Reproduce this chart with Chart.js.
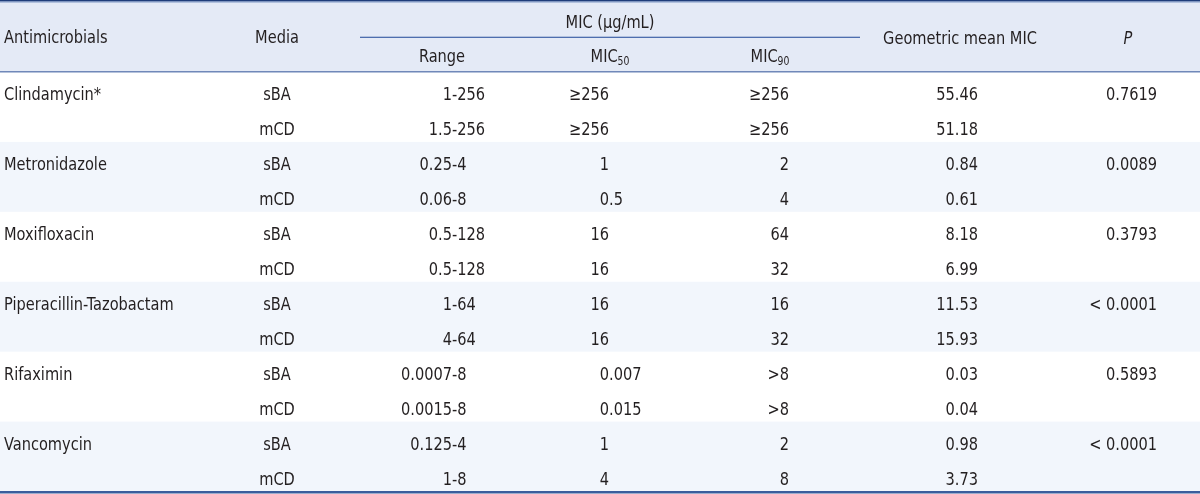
<!DOCTYPE html>
<html>
<head>
<meta charset="utf-8">
<script src="https://cdn.jsdelivr.net/npm/chart.js@4/dist/chart.umd.min.js"></script>
<style>
  html,body{margin:0;padding:0;background:#fff;}
  #wrap{width:1200px;height:494px;}
</style>
</head>
<body>
<div id="wrap"><canvas id="tbl" width="1200" height="494"></canvas></div>
<script>
// ====================== DATA ======================
const drugs = ['Clindamycin*','Metronidazole','Moxifloxacin','Piperacillin-Tazobactam','Rifaximin','Vancomycin'];
const media = ['sBA','mCD'];
const ranges = ['1-256','1.5-256','0.25-4','0.06-8','0.5-128','0.5-128','1-64','4-64','0.0007-8','0.0015-8','0.125-4','1-8'];
const mic50 = ['\u2265256','\u2265256','1','0.5','16','16','16','16','0.007','0.015','1','4'];
const mic90 = ['\u2265256','\u2265256','2','4','64','32','16','32','>8','>8','2','8'];
const geoMean = [55.46,51.18,0.84,0.61,8.18,6.99,11.53,15.93,0.03,0.04,0.98,3.73];
const pValues = ['0.7619','0.0089','0.3793','< 0.0001','0.5893','< 0.0001'];

// ====================== LAYOUT (table units) ======================
const HEAD = 2.06;          // header height in body-row units
const nRows = drugs.length * media.length;
const col = {drug:4, media:277, rangeSplit:452, rangeHead:442, micSpan:[360,860], micHead:610,
             mic50:609, mic50Head:610, mic90:789, mic90Head:770, geo:978, geoHead:960, p:1157, pHead:1128};
const FONT = "'DejaVu Sans Condensed','DejaVu Sans',sans-serif";
const SX = 0.9;             // squeeze text a bit, the original face is narrower
const TXT = '#231f20';

const tablePlugin = {
  id:'tablePlugin',
  beforeDatasetsDraw(chart){
    const {ctx} = chart, xs = chart.scales.x, ys = chart.scales.y;
    const px = v=>xs.getPixelForValue(v), py = v=>ys.getPixelForValue(v);
    const L = px(0), W = px(1200)-px(0);
    ctx.save();
    // header background
    ctx.fillStyle = '#e4eaf6';
    ctx.fillRect(L, py(-HEAD), W, py(0)-py(-HEAD));
    // tinted groups
    ctx.fillStyle = '#f2f6fc';
    drugs.forEach((d,g)=>{
      if(g%2===1) ctx.fillRect(L, py(g*2), W, py(g*2+2)-py(g*2));
    });
    // rules
    ctx.fillStyle = '#1f3d7a';
    ctx.fillRect(L, py(-HEAD), W, 1.5);
    ctx.fillStyle = '#7f97c6';
    ctx.fillRect(L, py(-HEAD)+1.5, W, 1);
    ctx.fillStyle = '#6f88b9';
    ctx.fillRect(L, py(0)-1, W, 1.5);
    ctx.fillStyle = '#3b5d9c';
    ctx.fillRect(L, py(nRows)-0.5, W, 2.5);
    ctx.fillStyle = '#3f62a6';
    ctx.fillRect(px(col.micSpan[0]), py(-1.01), px(col.micSpan[1])-px(col.micSpan[0]), 1.2);
    ctx.restore();
  },
  afterDatasetsDraw(chart){
    const {ctx} = chart, xs = chart.scales.x, ys = chart.scales.y;
    const px = v=>xs.getPixelForValue(v), py = v=>ys.getPixelForValue(v);
    ctx.save();
    ctx.fillStyle = TXT;
    ctx.textBaseline = 'alphabetic';
    const f = (s,style)=> (style||'') + ' ' + s + 'px ' + FONT;
    const put = (t,x,y,align,font)=>{
      ctx.save();
      ctx.translate(x,y); ctx.scale(SX,1);
      ctx.font = font||f(18); ctx.textAlign = align; ctx.fillText(t,0,0);
      ctx.restore();
    };
    const wid = (t,font)=>{ ctx.font = font; return ctx.measureText(t).width*SX; };
    const sub = (main,s,cx,y)=>{ // centred "MIC" + subscript
      const w1 = wid(main,f(18)), w2 = wid(s,f(11.5));
      const x0 = cx-(w1+w2)/2;
      put(main,x0,y,'left'); put(s,x0+w1,y+3,'left',f(11.5));
    };
    const split = (t,ch,x,y)=>{ // align on a character
      const i = t.indexOf(ch);
      if(i<0){ put(t,x,y,'right'); return; }
      put(t.slice(0,i),x,y,'right'); put(t.slice(i),x,y,'left');
    };
    // header
    put('Antimicrobials', px(col.drug), py(-0.82), 'left');
    put('Media', px(col.media), py(-0.82), 'center');
    put('MIC (\u00b5g/mL)', px(col.micHead), py(-1.25), 'center');
    put('Range', px(col.rangeHead), py(-0.30), 'center');
    sub('MIC','50', px(col.mic50Head), py(-0.30));
    sub('MIC','90', px(col.mic90Head), py(-0.30));
    put('Geometric mean MIC', px(col.geoHead), py(-0.80), 'center');
    put('P', px(col.pHead), py(-0.80), 'center', f(18,'italic'));
    // body
    for(let r=0;r<nRows;r++){
      const g = Math.floor(r/2), m = r%2, y = py(r+0.8);
      if(m===0){
        put(drugs[g], px(col.drug), y, 'left');
        put(pValues[g], px(col.p), y, 'right');
      }
      put(media[m], px(col.media), y, 'center');
      split(ranges[r], '-', px(col.rangeSplit), y);
      split(mic50[r], '.', px(col.mic50), y);
      put(mic90[r], px(col.mic90), y, 'right');
      put(geoMean[r].toFixed(2), px(col.geo), y, 'right');
    }
    ctx.restore();
  }
};

new Chart(document.getElementById('tbl').getContext('2d'), {
  type:'scatter',
  data:{ datasets:[{ data:[], pointRadius:0 }] },
  options:{
    responsive:false, animation:false,
    layout:{ padding:{top:0,bottom:2.5,left:0,right:0} },
    plugins:{ legend:{display:false}, tooltip:{enabled:false} },
    scales:{
      x:{ type:'linear', min:0, max:1200, display:false },
      y:{ type:'linear', min:-HEAD, max:nRows, reverse:true, display:false }
    }
  },
  plugins:[tablePlugin]
});
</script>
</body>
</html>
